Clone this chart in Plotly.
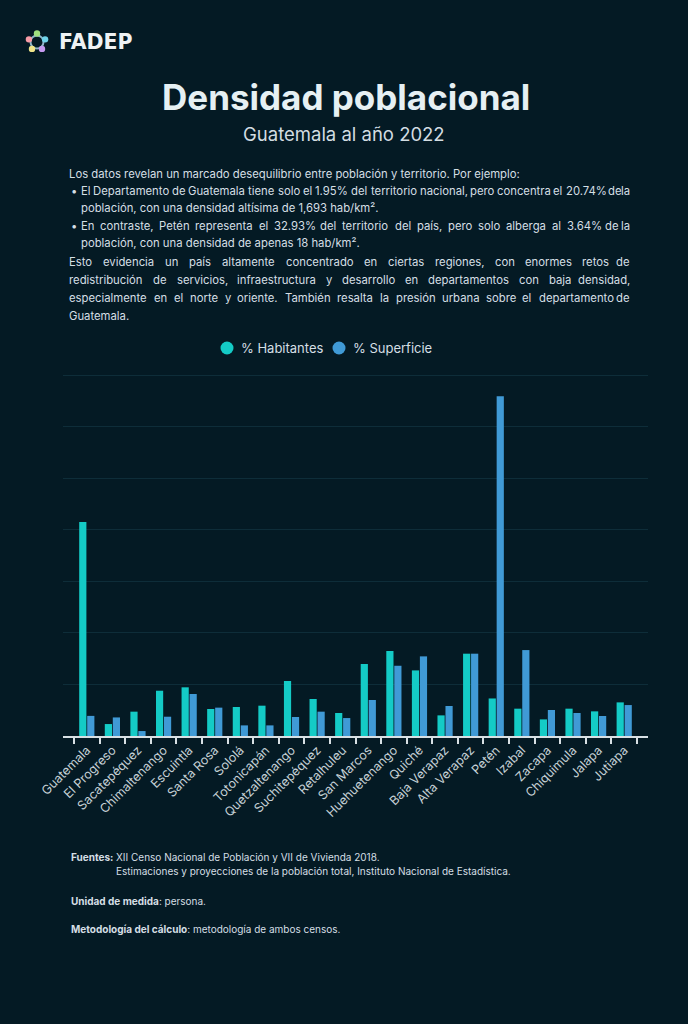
import math
import plotly.graph_objects as go

# ---------------- data ----------------
departamentos = ["Guatemala", "El Progreso", "Sacatepéquez", "Chimaltenango", "Escuintla",
                 "Santa Rosa", "Sololá", "Totonicapán", "Quetzaltenango", "Suchitepéquez",
                 "Retalhuleu", "San Marcos", "Huehuetenango", "Quiché", "Baja Verapaz",
                 "Alta Verapaz", "Petén", "Izabal", "Zacapa", "Chiquimula", "Jalapa", "Jutiapa"]
pct_habitantes = [20.74, 1.16, 2.36, 4.39, 4.72, 2.62, 2.81, 2.94, 5.33, 3.59, 2.23,
                  6.98, 8.24, 6.36, 2.00, 7.98, 3.64, 2.65, 1.61, 2.65, 2.39, 3.26]
pct_superficie = [1.95, 1.80, 0.48, 1.87, 4.07, 2.75, 1.03, 1.03, 1.84, 2.36, 1.74,
                  3.49, 6.81, 7.72, 2.91, 7.98, 32.93, 8.33, 2.52, 2.23, 1.94, 3.00]
series_names = ["% Habitantes", "% Superficie"]

titulo = "Densidad poblacional"
subtitulo = "Guatemala al año 2022"
intro = "Los datos revelan un marcado desequilibrio entre población y territorio. Por ejemplo:"
bullets = [
    ["El Departamento de Guatemala tiene solo el 1.95% del territorio nacional, pero concentra el 20.74% de la",
     "población, con una densidad altísima de 1,693 hab/km²."],
    ["En contraste, Petén representa el 32.93% del territorio del país, pero solo alberga al 3.64% de la",
     "población, con una densidad de apenas 18 hab/km²."],
]
parrafo = [
    "Esto evidencia un país altamente concentrado en ciertas regiones, con enormes retos de",
    "redistribución de servicios, infraestructura y desarrollo en departamentos con baja densidad,",
    "especialmente en el norte y oriente. También resalta la presión urbana sobre el departamento de",
    "Guatemala.",
]

# ---------------- style ----------------
BG = "#041a24"
TEAL = "#14cbc6"
BLUE = "#409ad6"
TXT = "#d5dfe4"
FONT = "Inter"
W, H = 688, 1024
L, R, T, B = 63, 648, 372, 736
Y_TOP = 35 + (375 - T) * 35.0 / (B - 375)


def X(px):
    return (px - L) / (R - L)


def Y(py):
    return (B - py) / (B - T)


fig = go.Figure()
fig.add_trace(go.Bar(x=departamentos, y=pct_habitantes, name=series_names[0],
                     marker=dict(color=TEAL, line=dict(width=0)), showlegend=False))
fig.add_trace(go.Bar(x=departamentos, y=pct_superficie, name=series_names[1],
                     marker=dict(color=BLUE, line=dict(width=0)), showlegend=False))

annotations = []
shapes = []


def txt(x, y, text, size, color=TXT, anchor="left", bold=False, family=FONT):
    if bold:
        text = "<b>" + text + "</b>"
    annotations.append(dict(x=X(x), y=Y(y), xref="paper", yref="paper", text=text,
                            showarrow=False, xanchor=anchor, yanchor="middle",
                            font=dict(family=family, size=size, color=color)))


# approximate advance widths (em) of Inter, used only to spread justified words
CW = dict(a=.553, b=.595, c=.548, d=.63, e=.59, f=.352, g=.595, h=.577, i=.27, j=.27,
          k=.525, l=.27, m=.868, n=.577, o=.582, p=.595, q=.595, r=.366, s=.516, t=.344,
          u=.577, v=.532, w=.785, x=.520, y=.532, z=.525)
for a_, b_ in zip("áéíóúñ", "aeioun"):
    CW[a_] = CW[b_]
CW.update({"E": .57, "D": .69, "G": .72, "P": .62, "T": .60, "I": .27, "N": .72,
           ".": .26, ",": .26, ":": .26, "%": .82, "/": .37, "²": .38, " ": .26})


def est(s, size):
    tot = 0
    for c in s:
        if c in CW:
            tot += CW[c]
        elif c.isdigit():
            tot += 0.60
        elif c.isupper():
            tot += 0.66
        else:
            tot += 0.56
    return tot * size


BS = 11.3
K = (459.0 * BS / 11.5) / est(intro, BS)


def justified(line, x0, x1, y, size):
    words = line.split(" ")
    widths = [est(w, size) * K for w in words]
    gap = (x1 - x0 - sum(widths)) / (len(words) - 1)
    x = x0
    for i, w in enumerate(words):
        if i == len(words) - 1:
            txt(x1, y, w, size, anchor="right")
        else:
            txt(x, y, w, size, anchor="left")
        x += widths[i] + gap


# header
txt(57, 42, "FADEP", 20.5, color="#eef2f4", bold=True, family="DejaVu Sans")
txt(346, 97, titulo, 35, color="#e6f0f3", anchor="center", bold=True)
txt(344, 134, subtitulo, 18.5, color="#d3dde2", anchor="center")

txt(67, 174, intro, BS)
for b, yy in zip(bullets, [191, 226]):
    txt(69, yy, "•", BS)
    justified(b[0], 79, 632, yy, BS)
    txt(79, yy + 17, b[1], BS)
for i, (line, yy) in enumerate(zip(parrafo, [262, 280, 298, 316])):
    if i < len(parrafo) - 1:
        justified(line, 67, 632, yy, BS)
    else:
        txt(67, yy, line, BS)

# legend (drawn)
for nm, col, cxp in zip(series_names, [TEAL, BLUE], [227, 339]):
    shapes.append(dict(type="circle", xref="paper", yref="paper",
                       x0=X(cxp - 6.5), x1=X(cxp + 6.5), y0=Y(348 + 6.5), y1=Y(348 - 6.5),
                       fillcolor=col, line=dict(width=0)))
    txt(cxp + 12, 348, nm, 13)

# footer
FS = 10
txt(69, 857, "Fuentes:", FS, bold=True)
txt(114, 857, "XII Censo Nacional de Población y VII de Vivienda 2018.", FS)
txt(114, 871, "Estimaciones y proyecciones de la población total, Instituto Nacional de Estadística.", FS)
txt(69, 901, "<b>Unidad de medida</b>: persona.", FS)
txt(69, 929, "<b>Metodología del cálculo</b>: metodología de ambos censos.", FS)

# logo icon
cx, cy, rr = 37, 42, 8.5
shapes.append(dict(type="circle", xref="paper", yref="paper",
                   x0=X(cx - 6.5), x1=X(cx + 6.5), y0=Y(cy + 6.5), y1=Y(cy - 6.5),
                   line=dict(color="#8fb6c8", width=2)))
logo_cols = ["#9fe07e", "#6fd3ea", "#c59af0", "#efe489", "#f79ba6"]
for k, col in enumerate(logo_cols):
    ang = math.radians(90 - k * 72)
    dx, dy = rr * math.cos(ang), -rr * math.sin(ang)
    shapes.append(dict(type="circle", xref="paper", yref="paper",
                       x0=X(cx + dx - 3.2), x1=X(cx + dx + 3.2),
                       y0=Y(cy + dy + 3.2), y1=Y(cy + dy - 3.2),
                       fillcolor=col, line=dict(width=0)))

fig.update_layout(
    width=W, height=H,
    margin=dict(l=L, r=W - R, t=T, b=H - B, pad=0),
    paper_bgcolor=BG, plot_bgcolor=BG,
    font=dict(family=FONT, color=TXT),
    barmode="group", bargap=0.375, bargroupgap=0.1,
    showlegend=False,
    annotations=annotations,
    shapes=shapes,
    xaxis=dict(range=[-0.93, 21.93], showline=True, linecolor="#d8e0e4", linewidth=2,
               ticks="outside", tickson="boundaries", ticklen=6, tickwidth=1.5,
               tickcolor="#d8e0e4", tickangle=-45, showgrid=False,
               tickfont=dict(family=FONT, size=12.5, color="#c6d1d6")),
    yaxis=dict(range=[0, Y_TOP], dtick=5, showticklabels=False, showgrid=True,
               gridcolor="#0e2d39", gridwidth=1, zeroline=False, showline=False),
)

fig.write_html("out.html", config={"displayModeBar": False},
               post_script="document.body.style.margin='0';document.body.style.background='" + BG + "';")
